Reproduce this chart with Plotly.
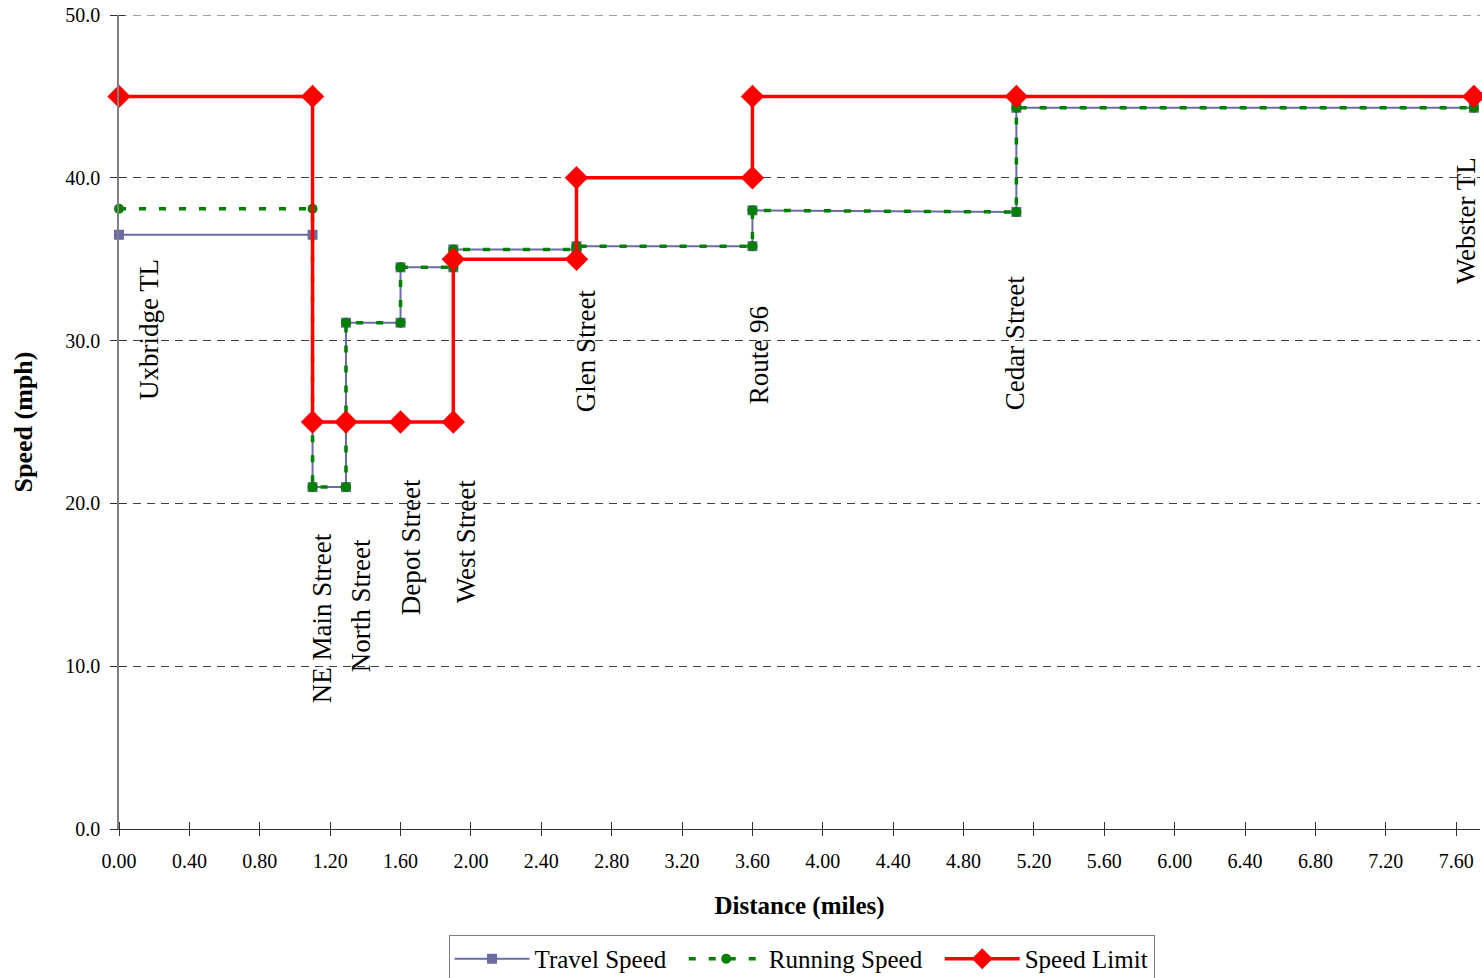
import plotly.graph_objects as go

# ---- data ----
travel_x = [0.00, 1.10, 1.10, 1.29, 1.29, 1.60, 1.60, 1.90, 1.90, 2.60, 2.60, 3.60, 3.60, 5.10, 5.10, 7.70]
travel_y = [36.5, 36.5, 21.0, 21.0, 31.1, 31.1, 34.5, 34.5, 35.6, 35.6, 35.8, 35.8, 38.0, 37.9, 44.3, 44.3]

running_x = [0.00, 1.10, 1.10, 1.29, 1.29, 1.60, 1.60, 1.90, 1.90, 2.60, 2.60, 3.60, 3.60, 5.10, 5.10, 7.70]
running_y = [38.1, 38.1, 21.0, 21.0, 31.1, 31.1, 34.5, 34.5, 35.6, 35.6, 35.8, 35.8, 38.0, 37.9, 44.3, 44.3]

limit_x = [0.00, 1.10, 1.10, 1.29, 1.60, 1.90, 1.90, 2.60, 2.60, 3.60, 3.60, 5.10, 7.70]
limit_y = [45, 45, 25, 25, 25, 25, 35, 35, 40, 40, 45, 45, 45]

street_names = ["Uxbridge TL", "NE Main Street", "North Street", "Depot Street", "West Street",
                "Glen Street", "Route 96", "Cedar Street", "Webster TL"]
# label anchor positions (centre of each rotated label), in axis units
label_x = [0.17, 1.155, 1.377, 1.661, 1.974, 2.656, 3.639, 5.094, 7.657]
label_y = [30.7, 12.96, 13.70, 17.32, 17.69, 29.36, 29.12, 29.85, 37.35]

x_ticks = [0.0, 0.4, 0.8, 1.2, 1.6, 2.0, 2.4, 2.8, 3.2, 3.6, 4.0, 4.4, 4.8, 5.2, 5.6, 6.0, 6.4, 6.8, 7.2, 7.6]
y_ticks = [0, 10, 20, 30, 40, 50]
y_max = 50

FONT = "Liberation Serif, Times New Roman, serif"
NBSP = "\u00a0"

fig = go.Figure()
fig.add_trace(go.Scatter(
    x=travel_x, y=travel_y, name="Travel Speed" + NBSP * 2, mode="lines+markers",
    line=dict(color="#6B6BA6", width=2),
    marker=dict(symbol="square", size=10, color="#6B6BA6"),
    cliponaxis=False,
))
fig.add_trace(go.Scatter(
    x=running_x, y=running_y, name="Running Speed" + NBSP * 2, mode="lines+markers",
    line=dict(color="#008000", width=3.5, dash="7px,13px"),
    marker=dict(symbol="circle", size=10, color="#008000"),
    cliponaxis=False,
))
fig.add_trace(go.Scatter(
    x=limit_x, y=limit_y, name="Speed Limit", mode="lines+markers",
    line=dict(color="#FF0000", width=3.5),
    marker=dict(symbol="diamond", size=18, color="#FF0000"),
    cliponaxis=False,
))

for name, lx, ly in zip(street_names, label_x, label_y):
    fig.add_annotation(x=lx, y=ly, text=name, textangle=-90, showarrow=False,
                       font=dict(family=FONT, size=27, color="black"),
                       xanchor="center", yanchor="middle")

# top gridline (plotly omits the gridline at the range edge)
fig.add_shape(type="line", xref="paper", yref="y", x0=0, x1=1, y0=y_max, y1=y_max,
              line=dict(color="#404040", width=1, dash="8px,6px"), layer="below")

fig.update_layout(
    width=1482, height=978,
    margin=dict(l=119, r=2, t=15, b=149, autoexpand=False),
    paper_bgcolor="white", plot_bgcolor="white",
    font=dict(family=FONT, color="black"),
    showlegend=True,
    legend=dict(
        orientation="h", x=0.5015, xanchor="center", y=-0.1302, yanchor="top",
        font=dict(family=FONT, size=25, color="black"),
        bordercolor="#808080", borderwidth=1, bgcolor="white",
        itemwidth=75, tracegroupgap=0,
    ),
    xaxis=dict(
        range=[0, 7.735], tickvals=x_ticks, tickformat=".2f",
        showgrid=False, zeroline=False,
        showline=True, linecolor="#303030", linewidth=1,
        ticks="outside", ticklen=6, tickcolor="#303030",
        ticklabelstandoff=8, ticklabeloverflow="allow",
        minor=dict(tickvals=x_ticks, ticks="inside", ticklen=7, tickcolor="#303030"),
        tickfont=dict(family=FONT, size=20, color="black"),
        title=dict(text="<b>Distance (miles)</b>", font=dict(family=FONT, size=25, color="black"), standoff=25),
    ),
    yaxis=dict(
        range=[0, y_max], tickvals=y_ticks, tickformat=".1f",
        showgrid=True, gridcolor="#404040", gridwidth=1, griddash="8px,6px",
        zeroline=False,
        showline=True, linecolor="#808080", linewidth=1.5,
        ticks="outside", ticklen=7, tickcolor="#303030",
        ticklabelstandoff=6, ticklabeloverflow="allow",
        minor=dict(tickvals=y_ticks, ticks="inside", ticklen=6, tickcolor="#303030"),
        tickfont=dict(family=FONT, size=20, color="black"),
        title=dict(text="<b>Speed (mph)</b>", font=dict(family=FONT, size=26, color="black"), standoff=25),
    ),
)

fig.write_html(
    "out.html",
    config={"displayModeBar": False},
    post_script="document.body.style.margin='0';document.body.style.overflow='hidden';",
)
